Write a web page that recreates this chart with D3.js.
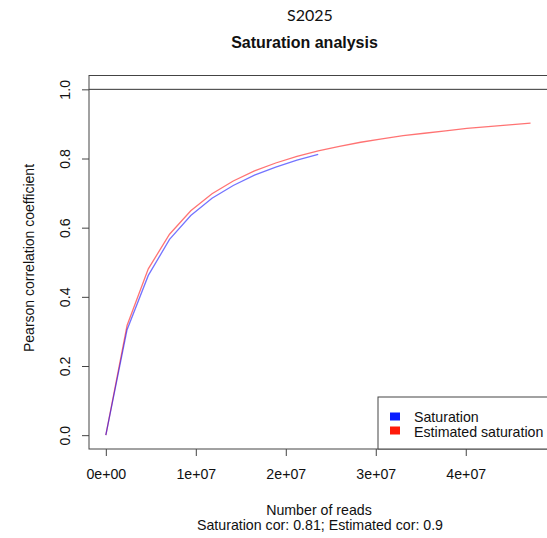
<!DOCTYPE html>
<html>
<head>
<meta charset="utf-8">
<script src="https://cdn.jsdelivr.net/npm/d3@7"></script>
<style>
  body { margin: 0; background: #fff; }
  text { font-family: "Liberation Sans", Arial, sans-serif; fill: #111; }
</style>
</head>
<body>
<div id="chart"></div>
<script>
// data
var steps = [0, 2.36e6, 4.72e6, 7.08e6, 9.44e6, 1.18e7, 1.416e7, 1.652e7, 1.888e7, 2.124e7, 2.36e7,
             2.596e7, 2.832e7, 3.068e7, 3.304e7, 3.54e7, 3.776e7, 4.012e7, 4.248e7, 4.484e7, 4.72e7];
var saturation = [0, 0.305, 0.462, 0.566, 0.635, 0.685, 0.722, 0.752, 0.775, 0.795, 0.812];
var estimated = [0, 0.317, 0.481, 0.581, 0.649, 0.698, 0.735, 0.764, 0.787, 0.806, 0.822,
                 0.835, 0.847, 0.857, 0.866, 0.873, 0.880, 0.887, 0.892, 0.897, 0.902];
var xTicks = [0, 1e7, 2e7, 3e7, 4e7];
var xTickLabels = ["0e+00", "1e+07", "2e+07", "3e+07", "4e+07"];
var yTicks = [0, 0.2, 0.4, 0.6, 0.8, 1.0];
var yTickLabels = ["0.0", "0.2", "0.4", "0.6", "0.8", "1.0"];
var legendNames = ["Saturation", "Estimated saturation"];
var legendColors = ["#0a1eff", "#ff1a0a"];

var W = 547, H = 538;
var box = {left: 89, right: 549, top: 75.5, bottom: 449};

var svg = d3.select("#chart").append("svg")
    .attr("width", W)
    .attr("height", H);

var x = d3.scaleLinear().domain([-1.87e6, 4.925e7]).range([box.left, box.right]);
var y = d3.scaleLinear().domain([-0.04, 1.04]).range([box.bottom, box.top]);

// titles
svg.append("text")
    .attr("x", 310).attr("y", 20.5)
    .attr("text-anchor", "middle")
    .style("font-family", "Lato, 'Open Sans', sans-serif")
    .style("font-size", "16px")
    .text("S2025");
svg.append("text")
    .attr("x", 304.5).attr("y", 48)
    .attr("text-anchor", "middle")
    .style("font-size", "16px")
    .style("font-weight", "bold")
    .text("Saturation analysis");

// reference line at 1
svg.append("line")
    .attr("x1", box.left).attr("x2", box.right)
    .attr("y1", y(1)).attr("y2", y(1))
    .attr("stroke", "#333").attr("stroke-width", 1);

// curves
var line = d3.line()
    .x(function(d) { return x(d[0]); })
    .y(function(d) { return y(d[1]); });

svg.append("path")
    .datum(estimated.map(function(v, i) { return [steps[i], v]; }))
    .attr("d", line)
    .attr("fill", "none")
    .attr("stroke", "#ff0000")
    .attr("stroke-opacity", 0.55)
    .attr("stroke-width", 1.3);

svg.append("path")
    .datum(saturation.map(function(v, i) { return [steps[i], v]; }))
    .attr("d", line)
    .attr("fill", "none")
    .attr("stroke", "#0000ff")
    .attr("stroke-opacity", 0.55)
    .attr("stroke-width", 1.3);

// x axis
var xAxis = svg.append("g")
    .attr("transform", "translate(0," + box.bottom + ")")
    .call(d3.axisBottom(x)
        .tickValues(xTicks)
        .tickSize(7)
        .tickFormat(function(d, i) { return xTickLabels[i]; }));
xAxis.select(".domain").remove();
xAxis.selectAll("line").attr("stroke", "#444");
xAxis.selectAll("text")
    .attr("y", 30)
    .attr("dy", 0)
    .style("font-size", "14.2px")
    .attr("fill", "#111");

// y axis
var yAxis = svg.append("g")
    .attr("transform", "translate(" + box.left + ",0)")
    .call(d3.axisLeft(y)
        .tickValues(yTicks)
        .tickSize(7)
        .tickFormat(function(d, i) { return yTickLabels[i]; }));
yAxis.select(".domain").remove();
yAxis.selectAll("line").attr("stroke", "#444");
yAxis.selectAll("text")
    .attr("x", 0)
    .attr("dy", "0.35em")
    .attr("text-anchor", "middle")
    .attr("transform", "translate(-23.5,0) rotate(-90)")
    .style("font-size", "14.2px")
    .attr("fill", "#111");

// plot box
svg.append("rect")
    .attr("x", box.left).attr("y", box.top)
    .attr("width", box.right - box.left)
    .attr("height", box.bottom - box.top)
    .attr("fill", "none")
    .attr("stroke", "#444").attr("stroke-width", 1);

// axis labels
svg.append("text")
    .attr("transform", "translate(34,258) rotate(-90)")
    .attr("text-anchor", "middle")
    .style("font-size", "14px")
    .text("Pearson correlation coefficient");
svg.append("text")
    .attr("x", 319).attr("y", 514.5)
    .attr("text-anchor", "middle")
    .style("font-size", "14.2px")
    .text("Number of reads");
svg.append("text")
    .attr("x", 320).attr("y", 529.5)
    .attr("text-anchor", "middle")
    .style("font-size", "14.2px")
    .text("Saturation cor: 0.81; Estimated cor: 0.9");

// legend
var legend = svg.append("g");
legend.append("rect")
    .attr("x", 378).attr("y", 397)
    .attr("width", 171).attr("height", 52)
    .attr("fill", "#fff")
    .attr("stroke", "#444");
legendNames.forEach(function(name, i) {
    legend.append("rect")
        .attr("x", 390).attr("y", 412.5 + i * 14)
        .attr("width", 10).attr("height", 8)
        .attr("fill", legendColors[i]);
    legend.append("text")
        .attr("x", 414).attr("y", 421.5 + i * 15)
        .style("font-size", "14.2px")
        .text(name);
});
</script>
</body>
</html>
